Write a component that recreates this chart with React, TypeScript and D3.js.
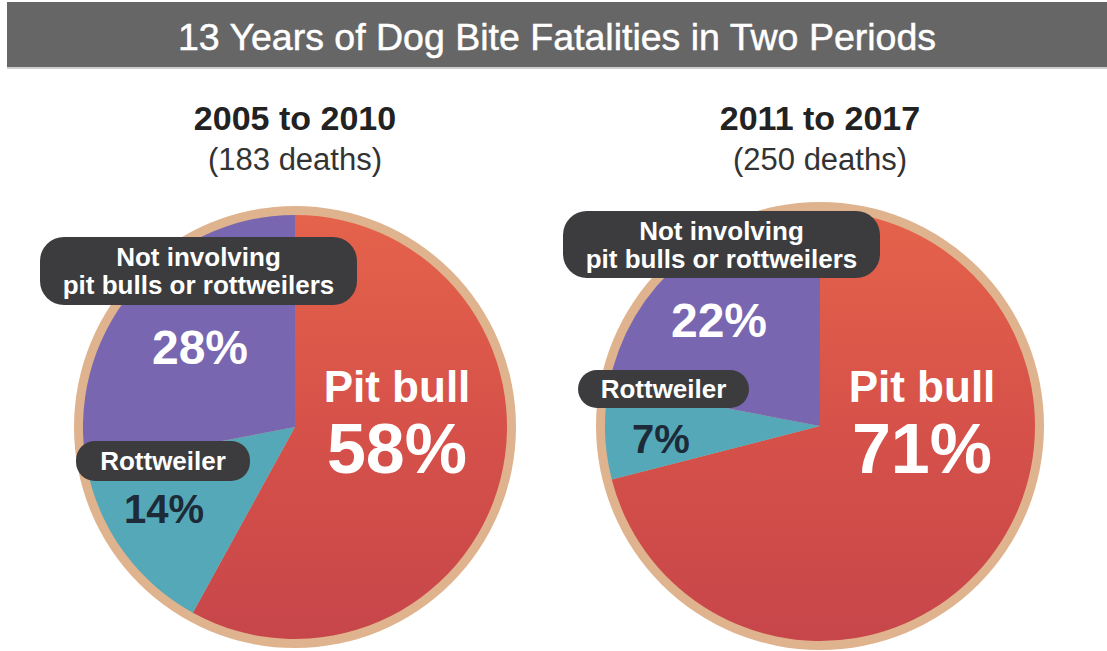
import React from "react";
import * as d3 from "d3";

const title = "13 Years of Dog Bite Fatalities in Two Periods";
const categories = ["Pit bull", "Rottweiler", "Not involving pit bulls or rottweilers"];
const periods = ["2005 to 2010", "2011 to 2017"];
const deaths = [183, 250];
const shares2005 = [58, 14, 28];
const shares2011 = [71, 7, 22];

const W = 1107;
const H = 651;
const FONT = "'Liberation Sans', Arial, sans-serif";

const PURPLE = "#7866b0";
const TEAL = "#54a8b7";
const TAN = "#dfb38e";
const PILL = "#3c3c3e";
const DARK = "#1d2a37";

type Layout = {
  cx: number; cy: number; rOuter: number; rInner: number;
  titleY: number; subY: number;
  notPill: [number, number, number, number];
  rotPill: [number, number, number, number];
  otherPct: [number, number];
  rotPct: [number, number];
  pit: [number, number];
};

const layouts: Layout[] = [
  {
    cx: 295, cy: 427, rOuter: 221, rInner: 212,
    titleY: 130, subY: 170,
    notPill: [40, 237, 317, 68],
    rotPill: [76, 441, 174, 40],
    otherPct: [200, 364],
    rotPct: [164, 523],
    pit: [397, 402],
  },
  {
    cx: 820, cy: 426, rOuter: 224, rInner: 215,
    titleY: 130, subY: 170,
    notPill: [563, 211, 317, 67],
    rotPill: [578, 370, 171, 38],
    otherPct: [719, 337],
    rotPct: [661, 453],
    pit: [922, 402],
  },
];

const seriesList = [shares2005, shares2011];

function Pie({ idx }: { idx: number }) {
  const L = layouts[idx];
  const values = seriesList[idx];
  const pie = d3.pie<number>().sort(null).value((d) => d).startAngle(0).endAngle(2 * Math.PI);
  const arcs = pie(values);
  const arc = d3.arc<d3.PieArcDatum<number>>().innerRadius(0).outerRadius(L.rInner);
  const fills = [`url(#redGrad${idx})`, TEAL, PURPLE];
  const [npx, npy, npw, nph] = L.notPill;
  const [rpx, rpy, rpw, rph] = L.rotPill;
  return (
    <g>
      <defs>
        <linearGradient id={`redGrad${idx}`} x1="0" y1={-L.rInner} x2="0" y2={L.rInner} gradientUnits="userSpaceOnUse">
          <stop offset="0" stopColor="#e5634b" />
          <stop offset="0.5" stopColor="#d65149" />
          <stop offset="1" stopColor="#c7464a" />
        </linearGradient>
      </defs>
      <text x={L.cx} y={L.titleY} textAnchor="middle" fontFamily={FONT} fontWeight="bold" fontSize={34} fill="#222">
        {periods[idx]}
      </text>
      <text x={L.cx} y={L.subY} textAnchor="middle" fontFamily={FONT} fontSize={31} fill="#333">
        {`(${deaths[idx]} deaths)`}
      </text>
      <circle cx={L.cx} cy={L.cy} r={L.rOuter} fill={TAN} />
      <g transform={`translate(${L.cx},${L.cy})`}>
        {arcs.map((a, i) => (
          <path key={i} d={arc(a) || ""} fill={fills[i]} />
        ))}
      </g>
      <rect x={npx} y={npy} width={npw} height={nph} rx={24} fill={PILL} />
      <text x={npx + npw / 2} y={npy + 29} textAnchor="middle" fontFamily={FONT} fontWeight="bold" fontSize={26} fill="#fff">
        Not involving
      </text>
      <text x={npx + npw / 2} y={npy + 57} textAnchor="middle" fontFamily={FONT} fontWeight="bold" fontSize={26} fill="#fff">
        pit bulls or rottweilers
      </text>
      <rect x={rpx} y={rpy} width={rpw} height={rph} rx={19} fill={PILL} />
      <text x={rpx + rpw / 2} y={rpy + rph / 2 + 9} textAnchor="middle" fontFamily={FONT} fontWeight="bold" fontSize={26} fill="#fff">
        {categories[1]}
      </text>
      <text x={L.otherPct[0]} y={L.otherPct[1]} textAnchor="middle" fontFamily={FONT} fontWeight="bold" fontSize={48} fill="#fff">
        {`${values[2]}%`}
      </text>
      <text x={L.rotPct[0]} y={L.rotPct[1]} textAnchor="middle" fontFamily={FONT} fontWeight="bold" fontSize={40} fill={DARK}>
        {`${values[1]}%`}
      </text>
      <text x={L.pit[0]} y={L.pit[1]} textAnchor="middle" fontFamily={FONT} fontWeight="bold" fontSize={44} fill="#fff">
        {categories[0]}
      </text>
      <text x={L.pit[0]} y={L.pit[1] + 71} textAnchor="middle" fontFamily={FONT} fontWeight="bold" fontSize={70} fill="#fff">
        {`${values[0]}%`}
      </text>
    </g>
  );
}

export default function App() {
  return (
    <svg width={W} height={H} style={{ position: "absolute", left: 0, top: 0, background: "#fff" }}>
      <rect x={0} y={0} width={W} height={H} fill="#fff" />
      <rect x={7} y={2} width={W - 7} height={65} fill="#666666" />
      <rect x={7} y={67} width={W - 7} height={2} fill="#cfcfcf" />
      <text x={557} y={50} textAnchor="middle" fontFamily={FONT} fontSize={37.5} fill="#fff" stroke="#fff" strokeWidth={0.5}>
        {title}
      </text>
      <Pie idx={0} />
      <Pie idx={1} />
    </svg>
  );
}
